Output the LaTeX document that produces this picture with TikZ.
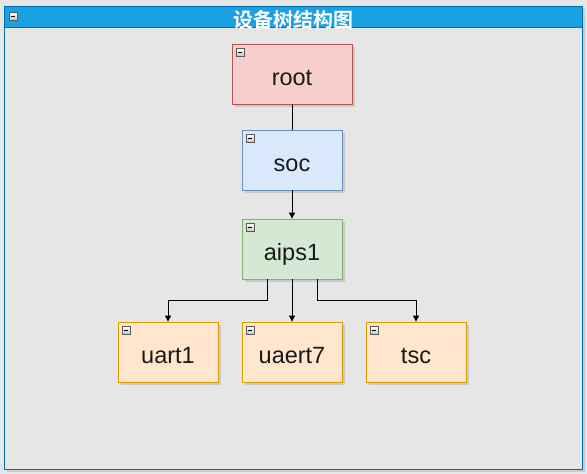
\documentclass[tikz,border=0pt]{standalone}
\usepackage{fontspec}
\setmainfont{Liberation Sans}
\newfontfamily\cjk{Noto Sans CJK SC}[BoldFont={* Bold}]
\usetikzlibrary{arrows.meta}
\definecolor{bg}{HTML}{E6E6E6}
\definecolor{titlefill}{HTML}{1BA1E2}
\definecolor{titleline}{HTML}{006EAF}
\definecolor{rootfill}{HTML}{F8CECC}\definecolor{rootline}{HTML}{B85450}
\definecolor{socfill}{HTML}{DAE8FC}\definecolor{socline}{HTML}{6C8EBF}
\definecolor{aipsfill}{HTML}{D5E8D4}\definecolor{aipsline}{HTML}{82B366}
\definecolor{leaffill}{HTML}{FFE6CC}\definecolor{leafline}{HTML}{D79B00}
\tikzset{
  x=1pt, y=-1pt,
  devbox/.style={draw, line width=0.8pt, minimum width=100pt, minimum height=60pt,
     inner sep=0pt, text height=22pt, text depth=0pt,
     font=\fontsize{23.5}{26}\selectfont, text=black!90},
  conn/.style={draw=black, line width=0.9pt},
  arr/.style={conn, -{Triangle[length=6pt,width=6pt]}},
}
\newcommand{\collapseicon}[2]{%
  \shade[top color=white, bottom color=gray!45, draw=gray!70!black, line width=0.4pt]
     (#1,#2) rectangle ++(8,8);
  \draw[line width=0.9pt, black] (#1+1.8,#2+4) -- (#1+6.2,#2+4);}
\newcommand{\shadowbox}[4]{%
  \fill[black, opacity=0.12] (#1+3,#2+3) rectangle (#3+3,#4+3);}
\begin{document}
\begin{tikzpicture}
\useasboundingbox (0,0) rectangle (587,474);
\fill[bg] (0,0) rectangle (587,474);
% container
\shadowbox{4}{6}{582}{469}
\fill[bg] (4,6) rectangle (582,469);
\draw[titleline, line width=0.8pt] (4,6) rectangle (582,469);
\fill[titlefill] (4,6) rectangle (582,27);
\draw[titleline, line width=0.8pt] (4,6) rectangle (582,27);
\node[font=\cjk\bfseries\fontsize{20}{22}\selectfont, text=white, inner sep=0pt] (title) at (293,19.5) {设备树结构图};
\collapseicon{9}{12}
% shadows
\shadowbox{232}{44}{352}{104}
\shadowbox{242}{130}{342}{190}
\shadowbox{242}{219}{342}{279}
\shadowbox{118}{322}{218}{382}
\shadowbox{242}{322}{342}{382}
\shadowbox{366}{322}{466}{382}
% nodes
\node[devbox, fill=rootfill, draw=rootline, minimum width=120pt] (root) at (292,74) {root};
\node[devbox, fill=socfill, draw=socline] (soc) at (292,160) {soc};
\node[devbox, fill=aipsfill, draw=aipsline] (aips) at (292,249) {aips1};
\node[devbox, fill=leaffill, draw=leafline] (uart) at (168,352) {uart1};
\node[devbox, fill=leaffill, draw=leafline] (uaert) at (292,352) {uaert7};
\node[devbox, fill=leaffill, draw=leafline] (tsc) at (416,352) {tsc};
\collapseicon{236}{48}
\collapseicon{246}{134}
\collapseicon{246}{223}
\collapseicon{122}{326}
\collapseicon{246}{326}
\collapseicon{370}{326}
% connectors
\draw[conn] (root.south) -- (soc.north);
\draw[arr] (soc.south) -- (aips.north);
\draw[arr] ([xshift=-25pt]aips.south) -- ++(0,21) -| (uart.north);
\draw[arr] (aips.south) -- (uaert.north);
\draw[arr] ([xshift=25pt]aips.south) -- ++(0,21) -| (tsc.north);
\end{tikzpicture}
\end{document}
